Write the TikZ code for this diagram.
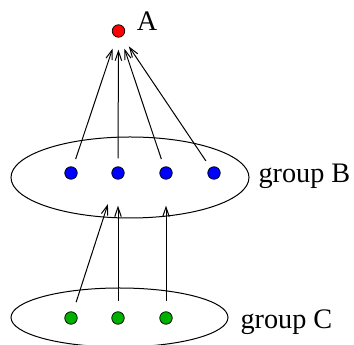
\documentclass[tikz,border=0pt]{standalone}
\usepackage{fontspec}
\setmainfont{Liberation Serif}
\usetikzlibrary{arrows.meta}
\definecolor{dotgreen}{RGB}{0,176,0}
\begin{document}
\begin{tikzpicture}[x=0.4pt, y=-0.4pt, thin, >={Straight Barb[length=3.8pt,width=2.6pt]},
    dot/.style={circle, draw, line width=0.3pt, inner sep=0pt, minimum size=5pt},
    lbl/.style={font=\fontsize{11.3}{13}\selectfont, inner sep=0pt}]
    \useasboundingbox (0,0) rectangle (354,345);
    \clip (0,0) rectangle (354,345);
    % Groups
    \draw (130,177.5) ellipse [x radius=47.6pt, y radius=16.2pt];
    \draw (119.5,317.5) ellipse [x radius=43.4pt, y radius=11.8pt];
    \node[lbl, anchor=base west] (gblabel) at (258,183) {group B};
    \node[lbl, anchor=base west] (gclabel) at (240,329) {group C};
    % Top node
    \node[dot, fill=red] (a) at (118.5,31) {};
    \node[lbl] (alabel) at (147,21) {A};
    % Members
    \node[dot, fill=blue] (b1) at (71,173) {};
    \node[dot, fill=blue] (b2) at (118,173) {};
    \node[dot, fill=blue] (b3) at (166,173) {};
    \node[dot, fill=blue] (b4) at (214,173) {};
    \node[dot, fill=dotgreen] (c1) at (71,318) {};
    \node[dot, fill=dotgreen] (c2) at (118,318) {};
    \node[dot, fill=dotgreen] (c3) at (166,318) {};
    % Links
    \foreach \b in {b1,b2,b3,b4}
        \draw[->, shorten <=3.2pt, shorten >=4.8pt] (\b) -- (a);
    \draw[->, shorten <=4pt, shorten >=10.4pt] (c1) -- (b2);
    \draw[->, shorten <=4pt, shorten >=10.4pt] (c2) -- (b2);
    \draw[->, shorten <=4pt, shorten >=10.4pt] (c3) -- (b3);
\end{tikzpicture}
\end{document}
